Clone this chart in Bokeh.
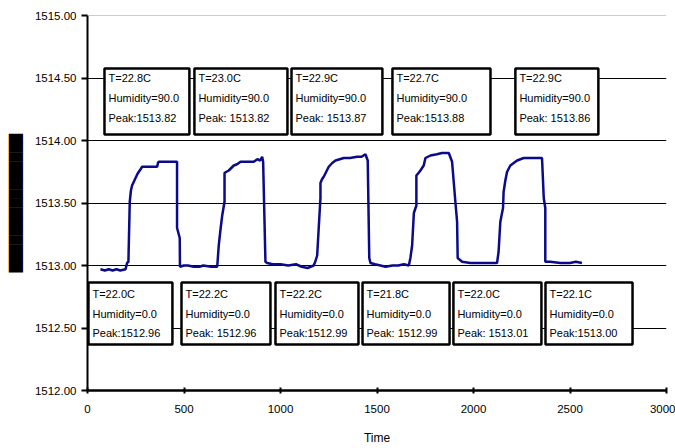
from bokeh.plotting import figure
from bokeh.models import BoxAnnotation, Label, Span, FixedTicker, NumeralTickFormatter, Range1d
from bokeh.embed import file_html
from bokeh.resources import INLINE

# ---- data ----
time = [67, 90, 110, 130, 150, 170, 197,
        205, 212, 219, 225, 231, 240, 249, 258, 266, 275, 283, 320, 361, 365, 369, 420, 464,
        464, 478, 479, 499, 520, 551, 580, 600, 640, 672,
        674, 680, 690, 698, 710, 710, 720, 732, 745, 758, 775, 793, 830, 861, 880, 895, 905, 910,
        922, 931, 960, 1000, 1040, 1080, 1110, 1140, 1172,
        1180, 1190, 1198, 1207, 1207, 1215, 1224, 1237, 1250, 1268, 1285, 1328, 1360, 1397, 1420, 1440, 1452,
        1460, 1466, 1490, 1518, 1544, 1580, 1610, 1639, 1665,
        1673, 1682, 1691, 1704, 1704, 1715, 1725, 1742, 1751, 1777, 1810, 1837, 1872, 1889, 1906, 1915, 1918,
        1941, 1984, 2050, 2122,
        2130, 2139, 2153, 2156, 2165, 2174, 2191, 2226, 2260, 2300, 2330, 2355,
        2364, 2372, 2372, 2398, 2450, 2500, 2530, 2562]
freq = [1512.97, 1512.96, 1512.97, 1512.96, 1512.97, 1512.96, 1512.97,
        1513.02, 1513.03, 1513.51, 1513.60, 1513.64, 1513.67, 1513.70, 1513.73, 1513.75, 1513.77, 1513.79, 1513.79, 1513.79, 1513.82, 1513.83, 1513.83, 1513.83,
        1513.30, 1513.22, 1512.99, 1513.00, 1513.00, 1512.99, 1512.99, 1513.00, 1512.99, 1512.99,
        1513.03, 1513.16, 1513.30, 1513.40, 1513.51, 1513.74, 1513.75, 1513.76, 1513.78, 1513.80, 1513.81, 1513.83, 1513.83, 1513.83, 1513.85, 1513.84, 1513.87, 1513.83,
        1513.03, 1513.02, 1513.01, 1513.01, 1513.00, 1513.01, 1512.99, 1512.98, 1513.00,
        1513.03, 1513.08, 1513.30, 1513.54, 1513.66, 1513.69, 1513.71, 1513.75, 1513.79, 1513.82, 1513.84, 1513.86, 1513.86, 1513.87, 1513.87, 1513.89, 1513.84,
        1513.06, 1513.02, 1513.01, 1513.00, 1512.99, 1513.00, 1513.00, 1513.01, 1513.00,
        1513.06, 1513.16, 1513.42, 1513.48, 1513.72, 1513.74, 1513.76, 1513.80, 1513.86, 1513.88, 1513.89, 1513.90, 1513.90, 1513.83, 1513.51, 1513.35, 1513.06,
        1513.03, 1513.02, 1513.02, 1513.02,
        1513.11, 1513.35, 1513.46, 1513.59, 1513.68, 1513.75, 1513.80, 1513.84, 1513.86, 1513.86, 1513.86, 1513.86,
        1513.54, 1513.46, 1513.03, 1513.03, 1513.02, 1513.02, 1513.03, 1513.02]

x_ticks = [0, 500, 1000, 1500, 2000, 2500, 3000]
y_ticks = [1512.0, 1512.5, 1513.0, 1513.5, 1514.0, 1514.5, 1515.0]

high_temp = ["T=22.8C", "T=23.0C", "T=22.9C", "T=22.7C", "T=22.9C"]
high_hum = ["Humidity=90.0"] * 5
high_peak = ["Peak:1513.82", "Peak: 1513.82", "Peak: 1513.87", "Peak:1513.88", "Peak: 1513.86"]

low_temp = ["T=22.0C", "T=22.2C", "T=22.2C", "T=21.8C", "T=22.0C", "T=22.1C"]
low_hum = ["Humidity=0.0"] * 6
low_peak = ["Peak:1512.96", "Peak: 1512.96", "Peak:1512.99", "Peak: 1512.99", "Peak: 1513.01", "Peak:1513.00"]

# ---- box layout (data units) ----
high_left = [88, 554, 1057, 1580, 2217]
high_right = [528, 1036, 1528, 2088, 2647]
high_top, high_bottom = 1514.576, 1514.048
low_left = [5, 487, 974, 1425, 1896, 2373]
low_right = [440, 948, 1404, 1876, 2352, 2824]
low_top, low_bottom = 1512.864, 1512.368

FONT = "Liberation Sans"

p = figure(width=675, height=448, output_backend="svg", toolbar_location=None,
           x_range=Range1d(0, 3000), y_range=Range1d(1512, 1515),
           min_border_left=87, min_border_right=9, min_border_top=15, min_border_bottom=58,
           background_fill_color="white", border_fill_color="white")
p.outline_line_color = None

p.xgrid.visible = False
p.ygrid.ticker = FixedTicker(ticks=[1512.5, 1513.0, 1513.5, 1514.0, 1514.5])
p.ygrid.grid_line_color = "black"
p.ygrid.grid_line_width = 1
p.add_layout(Span(location=1515, dimension="width", line_color="#9a9a9a", line_width=1))

p.line(time, freq, line_color="#0a0a8a", line_width=2.5)

# y axis
ya = p.yaxis[0]
ya.ticker = FixedTicker(ticks=y_ticks)
ya.formatter = NumeralTickFormatter(format="0.00")
ya.major_label_text_font = FONT
ya.major_label_text_font_size = "11.5px"
ya.major_label_text_color = "black"
ya.axis_line_width = 2
ya.axis_line_color = "black"
ya.major_tick_line_width = 2
ya.major_tick_line_color = "black"
ya.major_tick_out = 6
ya.major_tick_in = 0
ya.minor_tick_line_color = None
ya.major_label_standoff = 5
ya.axis_label = "\u2588" * 15
ya.axis_label_text_font = "DejaVu Sans"
ya.axis_label_text_font_size = "12px"
ya.axis_label_text_color = "black"
ya.axis_label_text_font_style = "normal"
ya.axis_label_standoff = 9

# x axis
xa = p.xaxis[0]
xa.ticker = FixedTicker(ticks=x_ticks)
xa.major_label_text_font = FONT
xa.major_label_text_font_size = "11.5px"
xa.major_label_text_color = "black"
xa.axis_line_width = 2.5
xa.axis_line_color = "black"
xa.major_tick_line_width = 2
xa.major_tick_line_color = "black"
xa.major_tick_out = 3
xa.major_tick_in = 3
xa.minor_tick_line_color = None
xa.major_label_standoff = 11
xa.axis_label = "Time"
xa.axis_label_text_font = FONT
xa.axis_label_text_font_size = "12px"
xa.axis_label_text_color = "black"
xa.axis_label_text_font_style = "normal"
xa.axis_label_standoff = 15


def add_box(left, right, top, bottom, lines, offsets):
    p.add_layout(BoxAnnotation(left=left, right=right, top=top, bottom=bottom,
                               fill_color="white", fill_alpha=1.0,
                               line_color="black", line_alpha=1.0, line_width=2.5))
    for txt, off in zip(lines, offsets):
        p.add_layout(Label(x=left, y=top, x_offset=4, y_offset=-off, text=txt,
                           text_font=FONT, text_font_size="11px", text_color="black",
                           text_align="left", text_baseline="middle"))


for i in range(len(high_temp)):
    add_box(high_left[i], high_right[i], high_top, high_bottom,
            [high_temp[i], high_hum[i], high_peak[i]], [9, 29, 49])

for i in range(len(low_temp)):
    add_box(low_left[i], low_right[i], low_top, low_bottom,
            [low_temp[i], low_hum[i], low_peak[i]], [11, 31, 50])

open("out.html", "w").write(file_html(p, INLINE))
